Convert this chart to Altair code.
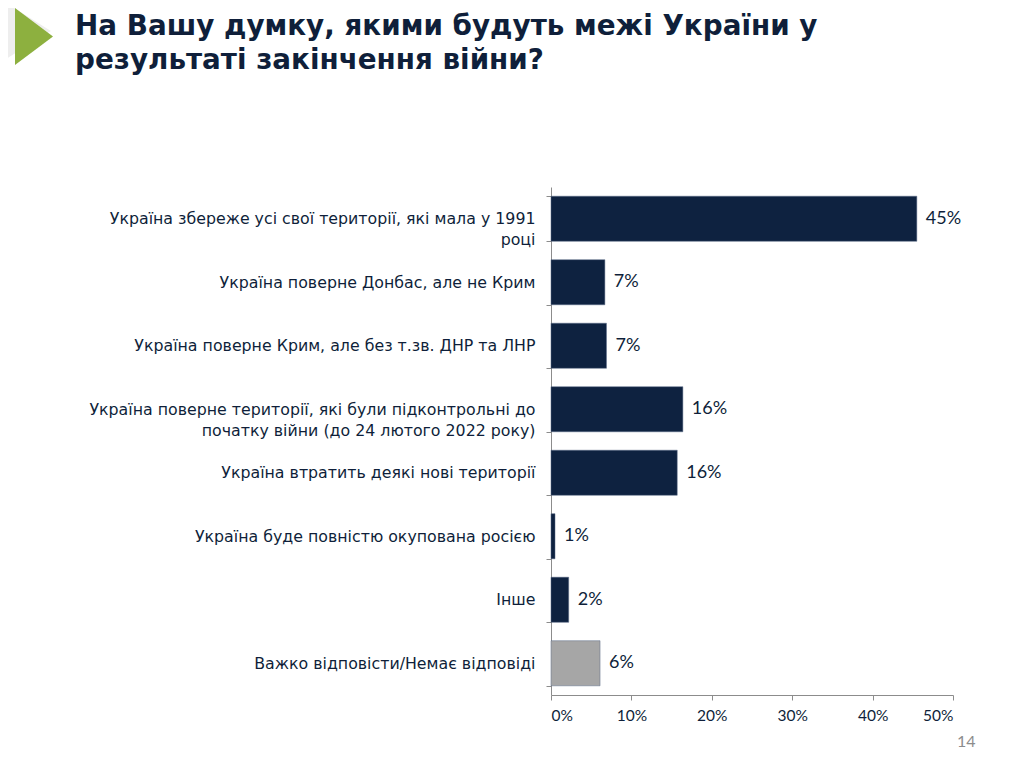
import altair as alt
import pandas as pd

categories = [
    "Україна збереже усі свої території, які мала у 1991|році",
    "Україна поверне Донбас, але не Крим",
    "Україна поверне Крим, але без т.зв. ДНР та ЛНР",
    "Україна поверне території, які були підконтрольні до|початку війни (до 24 лютого 2022 року)",
    "Україна втратить деякі нові території",
    "Україна буде повністю окупована росією",
    "Інше",
    "Важко відповісти/Немає відповіді",
]
values = [45.5, 6.7, 6.9, 16.4, 15.7, 0.5, 2.2, 6.1]
value_labels = ["45%", "7%", "7%", "16%", "16%", "1%", "2%", "6%"]
groups = ["answer"] * 7 + ["dk"]
x_ticks = [0, 10, 20, 30, 40, 50]

title_lines = ["На Вашу думку, якими будуть межі України у", "результаті закінчення війни?"]
page_number = "14"

NAVY = "#0E2240"
TEXT = "#0F1F3A"
GREY_AXIS = "#8C8C8C"

df = pd.DataFrame({"cat": categories, "val": values, "lab": value_labels, "grp": groups})

y_enc = alt.Y(
    "cat:N",
    sort=categories,
    scale=alt.Scale(paddingInner=0.29, paddingOuter=0.145),
    axis=alt.Axis(
        title=None,
        labelExpr="split(datum.label, '|')",
        labelFont="DejaVu Sans",
        labelFontSize=15.8,
        labelColor=TEXT,
        labelPadding=11,
        labelLineHeight=21,
        labelLimit=600,
        tickBand="extent",
        tickSize=5,
        tickColor=GREY_AXIS,
        domainColor=GREY_AXIS,
        grid=False,
    ),
)

x_enc = alt.X(
    "val:Q",
    scale=alt.Scale(domain=[0, 50], nice=False),
    axis=alt.Axis(
        title=None,
        values=x_ticks,
        labelExpr="datum.value + '%'",
        labelFont="Lato",
        labelFontSize=15.5,
        labelColor=TEXT,
        labelPadding=8,
        tickSize=5,
        tickColor=GREY_AXIS,
        domainColor=GREY_AXIS,
        grid=False,
    ),
)

bars = alt.Chart(df).mark_bar(stroke="#5A6A86", strokeWidth=0.5).encode(
    y=y_enc,
    x=x_enc,
    color=alt.Color(
        "grp:N",
        scale=alt.Scale(domain=["answer", "dk"], range=[NAVY, "#A6A6A6"]),
        legend=None,
    ),
)

texts = alt.Chart(df).mark_text(
    align="left", baseline="middle", dx=9, font="Lato", fontSize=18, color=TEXT
).encode(y=alt.Y("cat:N", sort=categories), x="val:Q", text="lab:N")

title1 = alt.Chart(pd.DataFrame({"t": [title_lines[0]]})).mark_text(
    align="left", baseline="alphabetic", font="DejaVu Sans",
    fontWeight="bold", fontSize=27.8, color=TEXT,
).encode(text="t:N", x=alt.value(-476), y=alt.value(-152))

title2 = alt.Chart(pd.DataFrame({"t": [title_lines[1]]})).mark_text(
    align="left", baseline="alphabetic", font="DejaVu Sans",
    fontWeight="bold", fontSize=27.8, color=TEXT,
).encode(text="t:N", x=alt.value(-476), y=alt.value(-118))

page = alt.Chart(pd.DataFrame({"t": [page_number]})).mark_text(
    align="left", baseline="alphabetic", font="Lato", fontSize=16, color="#8C8C8C",
).encode(text="t:N", x=alt.value(406), y=alt.value(560))

tri_shadow = alt.Chart(pd.DataFrame({"t": [0]})).mark_point(
    shape="M -0.8 -1 L 0.8 0 L -0.8 1 Z", filled=True, color="#EEEEEE", opacity=1, size=4200,
).encode(x=alt.value(-526), y=alt.value(-156))

tri = alt.Chart(pd.DataFrame({"t": [0]})).mark_point(
    shape="M -0.667 -1 L 0.667 0 L -0.667 1 Z", filled=True, color="#8DB03F", opacity=1, size=3249,
).encode(x=alt.value(-517), y=alt.value(-150.5))

top_rule = alt.Chart(pd.DataFrame({"t": [0]})).mark_rule(color="#D9D9D9", strokeWidth=3).encode(
    x=alt.value(-551), x2=alt.value(481), y=alt.value(-185)
)

chart = alt.layer(
    top_rule, tri_shadow, tri, title1, title2, bars, texts, page
).properties(
    width=402,
    height=508,
    autosize=alt.AutoSizeParams(type="none"),
    padding={"left": 543, "top": 179, "right": 71, "bottom": 57},
    background="white",
).configure_view(stroke=None)

chart.save("out.html", embed_options={"renderer": "svg", "actions": False})
